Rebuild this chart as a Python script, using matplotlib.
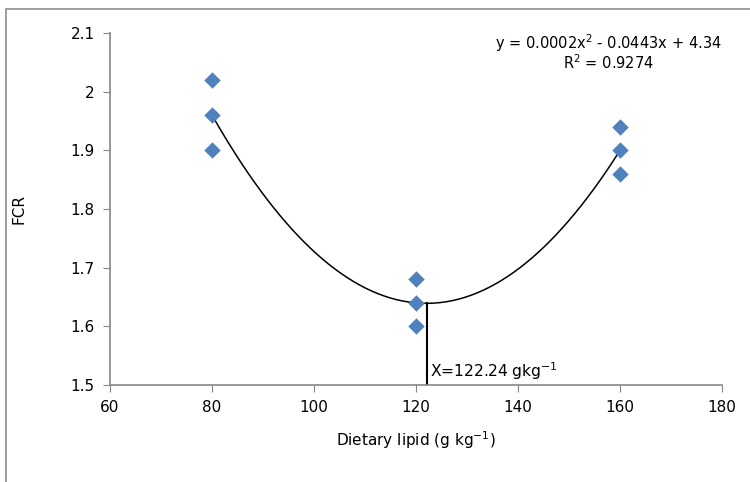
import numpy as np
import matplotlib
matplotlib.use("Agg")
import matplotlib.pyplot as plt
from matplotlib.patches import Rectangle

# Data
lipid = [80, 80, 80, 120, 120, 120, 160, 160, 160]
fcr = [2.02, 1.96, 1.90, 1.68, 1.64, 1.60, 1.94, 1.90, 1.86]
x_opt = 122.24
x_ticks = [60, 80, 100, 120, 140, 160, 180]
y_ticks = [1.5, 1.6, 1.7, 1.8, 1.9, 2.0, 2.1]
y_tick_labels = ["1.5", "1.6", "1.7", "1.8", "1.9", "2", "2.1"]

BLUE = "#4F81BD"
GREY = "#868686"

fig = plt.figure(figsize=(7.5, 4.82), dpi=100)
fig.patches.append(Rectangle((0.008, -0.1), 1.2, 1.081, transform=fig.transFigure,
                             fill=False, edgecolor="#8c8c8c", linewidth=1.2))
ax = fig.add_axes([0.1467, 0.2012, 0.816, 0.7303])

# trendline (2nd order polynomial)
coef = np.polyfit(lipid, fcr, 2)
xs = np.linspace(min(lipid), max(lipid), 200)
ax.plot(xs, np.polyval(coef, xs), color="black", linewidth=1.1, zorder=2)

ax.scatter(lipid, fcr, marker="D", s=70, color=BLUE, zorder=3, linewidths=0)

y_opt = np.polyval(coef, x_opt)
ax.plot([x_opt, x_opt], [1.5, y_opt], color="black", linewidth=1.5, zorder=2)
ax.annotate("X=122.24 gkg$^{-1}$", (x_opt, 1.5), xytext=(2, 2), textcoords="offset points",
            fontsize=11.2, ha="left", va="bottom")

ax.text(0.815, 0.97, "y = 0.0002x$^{2}$ - 0.0443x + 4.34", transform=ax.transAxes,
        ha="center", va="center", fontsize=10.5)
ax.text(0.815, 0.915, "R$^{2}$ = 0.9274", transform=ax.transAxes,
        ha="center", va="center", fontsize=10.5)

ax.set_xlim(60, 180)
ax.set_ylim(1.5, 2.1)
ax.set_xticks(x_ticks)
ax.set_yticks(y_ticks)
ax.set_yticklabels(y_tick_labels)
ax.tick_params(axis="both", direction="out", length=5, color=GREY, labelsize=11, pad=6)

for side in ["top", "right"]:
    ax.spines[side].set_visible(False)
for side in ["left", "bottom"]:
    ax.spines[side].set_color(GREY)
    ax.spines[side].set_linewidth(1.2)

ax.set_xlabel("Dietary lipid (g kg$^{-1}$)", fontsize=11, labelpad=10)
ax.set_ylabel("FCR", fontsize=11, labelpad=32)

fig.savefig("out.png", dpi=100)
